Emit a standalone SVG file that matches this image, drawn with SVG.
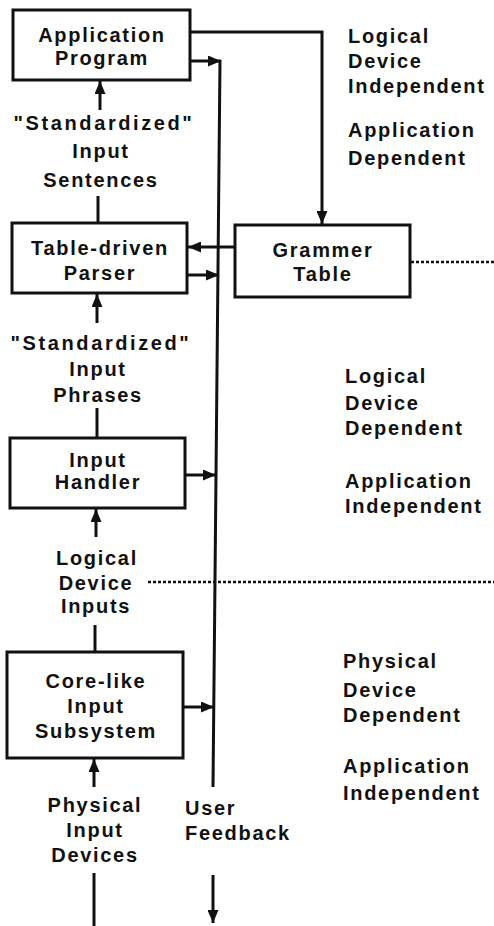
<svg xmlns="http://www.w3.org/2000/svg" width="494" height="926" viewBox="0 0 494 926">
  <style>
    text { font-family: "Liberation Sans", Arial, sans-serif; font-weight: bold; font-size: 20px; letter-spacing: 1.7px; fill: #111; }
    .c { text-anchor: middle; }
    .wide { letter-spacing: 2.6px; }
    .box { fill: #fff; stroke: #111; stroke-width: 3; }
    .ln { fill: none; stroke: #111; stroke-width: 3; }
    .dot { fill: none; stroke: #111; stroke-width: 2.5; stroke-dasharray: 3 2; }
  </style>
  <defs>
    <marker id="arrow" markerUnits="userSpaceOnUse" markerWidth="13" markerHeight="11" refX="13" refY="5.5" orient="auto">
      <path d="M0,0 L13,5.5 L0,11 z" fill="#111"/>
    </marker>
  </defs>

  <rect width="494" height="926" fill="#fff"/>

  <!-- connectors -->
  <g id="connectors">
    <path class="ln" d="M190,32 H322 V224" marker-end="url(#arrow)"/>
    <path class="ln" d="M190,61 H221" marker-end="url(#arrow)"/>
    <path class="ln" d="M220,60 L213,787"/>
    <path class="ln" d="M100,110 V81" marker-end="url(#arrow)"/>
    <path class="ln" d="M98,196 V223"/>
    <path class="ln" d="M235,247 H188" marker-end="url(#arrow)"/>
    <path class="ln" d="M187,275 H219" marker-end="url(#arrow)"/>
    <path class="ln" d="M97,323 V294" marker-end="url(#arrow)"/>
    <path class="ln" d="M97,408 V438"/>
    <path class="ln" d="M185,475 H216" marker-end="url(#arrow)"/>
    <path class="ln" d="M96,537 V509" marker-end="url(#arrow)"/>
    <path class="ln" d="M95,625 V652"/>
    <path class="ln" d="M183,707 H214" marker-end="url(#arrow)"/>
    <path class="ln" d="M94,787 V759" marker-end="url(#arrow)"/>
    <path class="ln" d="M94,873 V926"/>
    <path class="ln" d="M213,875 V923" marker-end="url(#arrow)"/>
    <path class="dot" d="M411,262 H494"/>
    <path class="dot" d="M148,582 H494"/>
  </g>

  <!-- processing stages -->
  <g id="application-program">
    <rect class="box" x="13" y="10" width="177" height="70"/>
    <text class="c" x="102" y="42">Application</text>
    <text class="c" x="102" y="65">Program</text>
  </g>
  <g id="table-driven-parser">
    <rect class="box" x="12" y="223" width="175" height="70"/>
    <text class="c" x="100" y="255">Table-driven</text>
    <text class="c" x="100" y="280">Parser</text>
  </g>
  <g id="grammer-table">
    <rect class="box" x="235" y="225" width="175" height="72"/>
    <text class="c" x="323" y="257">Grammer</text>
    <text class="c" x="323" y="281">Table</text>
  </g>
  <g id="input-handler">
    <rect class="box" x="10" y="438" width="175" height="70"/>
    <text class="c" x="98" y="467">Input</text>
    <text class="c" x="98" y="489">Handler</text>
  </g>
  <g id="core-like-input-subsystem">
    <rect class="box" x="7" y="652" width="176" height="106"/>
    <text class="c" x="96" y="688">Core-like</text>
    <text class="c" x="96" y="713">Input</text>
    <text class="c" x="96" y="738">Subsystem</text>
  </g>

  <!-- flow labels -->
  <g id="input-sentences">
    <text class="c wide" x="104" y="130">"Standardized"</text>
    <text class="c" x="101" y="158">Input</text>
    <text class="c" x="101" y="187">Sentences</text>
  </g>
  <g id="input-phrases">
    <text class="c wide" x="101" y="350">"Standardized"</text>
    <text class="c" x="98" y="376">Input</text>
    <text class="c" x="98" y="402">Phrases</text>
  </g>
  <g id="logical-device-inputs">
    <text class="c" x="97" y="565">Logical</text>
    <text class="c" x="96" y="590">Device</text>
    <text class="c" x="96" y="613">Inputs</text>
  </g>
  <g id="physical-input-devices">
    <text class="c" x="95" y="812">Physical</text>
    <text class="c" x="95" y="837">Input</text>
    <text class="c" x="95" y="862">Devices</text>
  </g>
  <g id="user-feedback">
    <text x="185" y="815">User</text>
    <text x="185" y="840">Feedback</text>
  </g>

  <!-- layer descriptions -->
  <g id="layer-logical-independent">
    <text x="348" y="43">Logical</text>
    <text x="348" y="68">Device</text>
    <text x="348" y="93">Independent</text>
    <text x="348" y="137">Application</text>
    <text x="348" y="165">Dependent</text>
  </g>
  <g id="layer-logical-dependent">
    <text x="345" y="383">Logical</text>
    <text x="345" y="410">Device</text>
    <text x="345" y="435">Dependent</text>
    <text x="345" y="488">Application</text>
    <text x="345" y="513">Independent</text>
  </g>
  <g id="layer-physical-dependent">
    <text x="343" y="668">Physical</text>
    <text x="343" y="697">Device</text>
    <text x="343" y="722">Dependent</text>
    <text x="343" y="773">Application</text>
    <text x="343" y="800">Independent</text>
  </g>
</svg>
